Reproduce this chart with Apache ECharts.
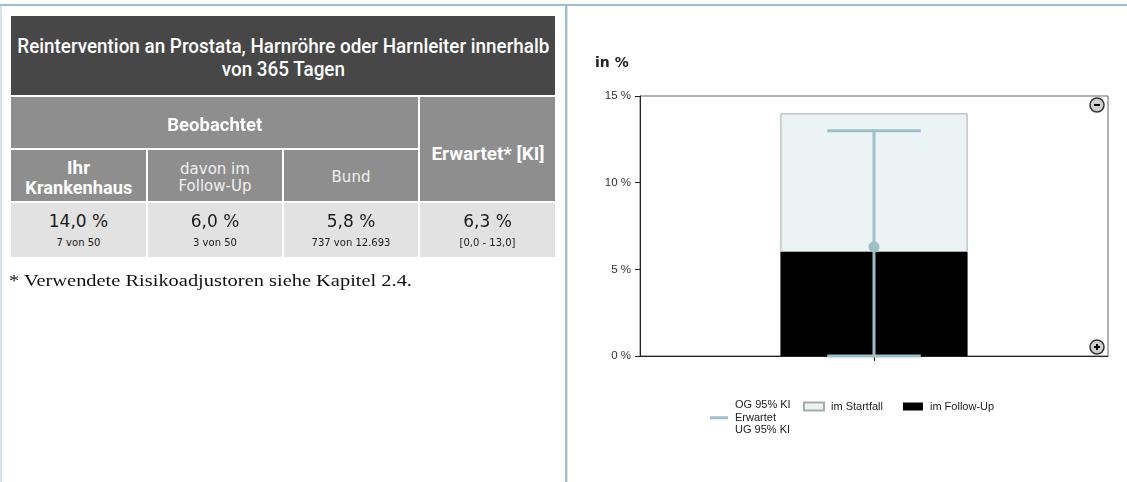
<!DOCTYPE html>
<html>
<head>
<meta charset="utf-8">
<script src="https://cdn.jsdelivr.net/npm/echarts@6/dist/echarts.min.js"></script>
<style>
  html, body { margin: 0; padding: 0; background: #fff; }
  body { width: 1127px; height: 482px; position: relative; overflow: hidden; }
  #chart { position: absolute; left: 0; top: 0; width: 1127px; height: 482px; }
  .ln { position: absolute; }
  .cell { position: absolute; box-sizing: border-box; display: flex; flex-direction: column;
          align-items: center; justify-content: center; text-align: center; }
  .cond { font-family: Roboto, "Liberation Sans", sans-serif; }
  .dv { font-family: "DejaVu Sans", sans-serif; }
  .fit { display: inline-block; white-space: nowrap; transform-origin: 50% 50%; }
</style>
</head>
<body>
<div id="chart"></div>
<div id="overlay"></div>
<script>
// ---------- data ----------
var tableTitle = ['Reintervention an Prostata, Harnröhre oder Harnleiter innerhalb', 'von 365 Tagen'];
var groupHeader = 'Beobachtet';
var expectedHeader = 'Erwartet* [KI]';
var columnHeaders = [['Ihr', 'Krankenhaus'], ['davon im', 'Follow-Up'], ['Bund']];
var columnValues = ['14,0 %', '6,0 %', '5,8 %', '6,3 %'];
var columnCounts = ['7 von 50', '3 von 50', '737 von 12.693', '[0,0 - 13,0]'];
var footnote = '* Verwendete Risikoadjustoren siehe Kapitel 2.4.';

var categories = [''];
var followUp = [6.0];          // im Follow-Up (3 von 50)
var startfall = [8.0];         // im Startfall (14,0 % gesamt minus 6,0 %)
var expected = [6.3];          // Erwartet
var ciLower = [0.0];           // UG 95% KI
var ciUpper = [13.0];          // OG 95% KI
var yTicks = [0, 5, 10, 15];

// ---------- page frame + table (HTML text) ----------
var ov = document.getElementById('overlay');
function add(html) { ov.insertAdjacentHTML('beforeend', html); }
add('<div class="ln" style="left:0;top:4px;width:1127px;height:2px;background:#9dbfc7"></div>');
add('<div class="ln" style="left:0;top:6px;width:2px;height:476px;background:#d4e4ea"></div>');
add('<div class="ln" style="left:565px;top:6px;width:2px;height:476px;background:#9dbfc7"></div>');
add('<div class="ln" style="left:567px;top:6px;width:1px;height:476px;background:#d4e4ea"></div>');

function fitSpan(text, w) { return '<span class="fit" data-w="' + w + '">' + text + '</span>'; }

add('<div class="cell cond" style="left:11px;top:16px;width:544px;height:79px;background:#474747;color:#fff;font-size:20px;font-weight:500;line-height:23px;padding-top:4px">' +
    '<div>' + fitSpan(tableTitle[0], 532) + '</div><div>' + fitSpan(tableTitle[1], 0) + '</div></div>');
add('<div class="cell cond" style="left:11px;top:97px;width:407px;height:51px;background:#8e8e8e;color:#fff;font-size:19px;font-weight:bold;padding-top:4px">' + fitSpan(groupHeader, 95) + '</div>');
add('<div class="cell cond" style="left:420px;top:97px;width:135px;height:104px;background:#8e8e8e;color:#fff;font-size:19px;font-weight:bold;padding-top:8px">' + fitSpan(expectedHeader, 113) + '</div>');
var colX = [11, 148, 284, 420];
var colW = [135, 134, 134, 135];
for (var i = 0; i < columnHeaders.length; i++) {
  var bold = (i === 0);
  var st = bold ? 'font-size:19px;font-weight:bold;line-height:20px;color:#fff;padding-top:4px'
                : 'font-size:15px;line-height:17px;color:#f0f0f0;padding-top:4px';
  var cls = bold ? 'cond' : 'dv';
  var inner = columnHeaders[i].map(function (t, k) {
    return '<div>' + (bold ? fitSpan(t, k === 1 ? 107 : 0) : t) + '</div>';
  }).join('');
  add('<div class="cell ' + cls + '" style="left:' + colX[i] + 'px;top:150px;width:' + colW[i] + 'px;height:51px;background:#8e8e8e;' + st + '">' + inner + '</div>');
}
for (var j = 0; j < columnValues.length; j++) {
  add('<div class="cell dv" style="left:' + colX[j] + 'px;top:203px;width:' + colW[j] + 'px;height:54px;background:#e2e2e2;color:#1a1a1a;padding-top:3px">' +
      '<div style="font-size:17px;line-height:22px">' + columnValues[j] + '</div>' +
      '<div style="font-size:10px;line-height:22px">' + columnCounts[j] + '</div></div>');
}
add('<div class="ln" style="left:9px;top:271px;width:420px;font-family:\'Liberation Serif\',\'DejaVu Serif\',serif;font-size:17px;color:#111;white-space:nowrap">' +
    '<span class="fit" data-w="403" style="transform-origin:0 50%">' + footnote + '</span></div>');

// condense header texts to the widths measured in the reference
(function () {
  var spans = ov.querySelectorAll('.fit');
  var lastScale = 1;
  for (var s = 0; s < spans.length; s++) {
    var target = +spans[s].getAttribute('data-w');
    var w = spans[s].getBoundingClientRect().width;
    var sc = target > 0 ? target / w : lastScale;
    spans[s].style.transform = 'scaleX(' + sc + ')';
    lastScale = sc;
  }
})();

// ---------- chart ----------
var chart = echarts.init(document.getElementById('chart'), null, { renderer: 'canvas' });
var lineColor = '#9fbfc8';
var fontAx = 'Liberation Sans, Arial, sans-serif';

function zoomIcon(cx, cy, plus) {
  var children = [
    { type: 'circle', shape: { cx: cx, cy: cy, r: 7 }, style: { fill: '#d0d0d0', stroke: '#333', lineWidth: 1.5 } },
    { type: 'rect', shape: { x: cx - 3, y: cy - 1, width: 6, height: 2 }, style: { fill: '#000' } }
  ];
  if (plus) children.push({ type: 'rect', shape: { x: cx - 1, y: cy - 3, width: 2, height: 6 }, style: { fill: '#000' } });
  return { type: 'group', children: children, z: 20 };
}

chart.setOption({
  animation: false,
  title: {
    text: 'in %', left: 590, top: 51,
    textStyle: { fontSize: 14, fontWeight: 'bold', color: '#222', fontFamily: 'DejaVu Sans, sans-serif' }
  },
  grid: { left: 640, right: 19, top: 96, bottom: 126, show: true, borderColor: '#666', borderWidth: 1, backgroundColor: 'transparent' },
  xAxis: {
    type: 'category', data: categories,
    axisLine: { show: true, lineStyle: { color: '#222', width: 1 } },
    axisTick: { show: true, alignWithLabel: true, length: 5, lineStyle: { color: '#222' } },
    axisLabel: { show: false },
    splitLine: { show: false }
  },
  yAxis: {
    type: 'value', min: 0, max: 15, interval: 5,
    axisLine: { show: true, lineStyle: { color: '#222', width: 1 } },
    axisTick: { show: true, length: 5, lineStyle: { color: '#222' } },
    axisLabel: { formatter: function (v) { return yTicks.indexOf(v) >= 0 ? v + ' %' : ''; }, fontSize: 11.5, color: '#333', margin: 9, fontFamily: fontAx },
    splitLine: { show: false }
  },
  legend: [
    {
      data: [{ name: 'OG 95% KI\nErwartet\nUG 95% KI', icon: 'rect', itemStyle: { color: lineColor } }],
      left: 710, top: 399, padding: 0, itemWidth: 18, itemHeight: 3, itemGap: 0, selectedMode: false,
      textStyle: { fontSize: 11, color: '#222', fontFamily: fontAx, lineHeight: 12.5, padding: [0, 0, 0, 2] }
    },
    {
      data: [{ name: 'im Startfall', icon: 'rect' }, { name: 'im Follow-Up', icon: 'rect' }],
      left: 803, top: 401, padding: 0, itemWidth: 20, itemHeight: 8, itemGap: 20, selectedMode: false,
      textStyle: { fontSize: 11, color: '#222', fontFamily: fontAx, padding: [0, 0, 0, 2] }
    }
  ],
  graphic: [zoomIcon(1097, 105, false), zoomIcon(1097, 347, true)],
  series: [
    {
      name: 'im Follow-Up', type: 'bar', stack: 'obs', data: followUp, barWidth: '40%',
      itemStyle: { color: '#000' }
    },
    {
      name: 'im Startfall', type: 'bar', stack: 'obs', data: startfall, barWidth: '40%',
      itemStyle: { color: '#ecf3f5', borderColor: '#aaa', borderWidth: 1 }
    },
    {
      name: 'OG 95% KI\nErwartet\nUG 95% KI', type: 'custom', z: 5,
      data: categories.map(function (c, i) { return [i, ciLower[i], ciUpper[i], expected[i]]; }),
      encode: { x: 0, y: [1, 2, 3] },
      itemStyle: { color: lineColor },
      renderItem: function (params, api) {
        var x = api.value(0);
        var lo = api.coord([x, api.value(1)]);
        var hi = api.coord([x, api.value(2)]);
        var mid = api.coord([x, api.value(3)]);
        var half = api.size([1, 0])[0] * 0.1;
        var ls = { stroke: lineColor, lineWidth: 3 };
        return {
          type: 'group',
          children: [
            { type: 'line', shape: { x1: hi[0], y1: hi[1], x2: lo[0], y2: lo[1] }, style: ls },
            { type: 'line', shape: { x1: hi[0] - half, y1: hi[1], x2: hi[0] + half, y2: hi[1] }, style: ls },
            { type: 'line', shape: { x1: lo[0] - half, y1: lo[1], x2: lo[0] + half, y2: lo[1] }, style: ls },
            { type: 'circle', shape: { cx: mid[0], cy: mid[1], r: 5.5 }, style: { fill: lineColor } }
          ]
        };
      }
    }
  ]
});
</script>
</body>
</html>
